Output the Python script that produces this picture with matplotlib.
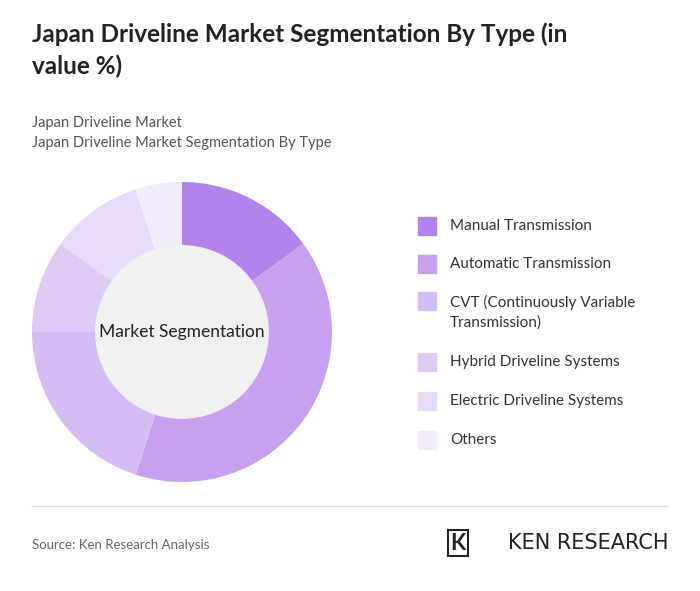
import matplotlib.pyplot as plt
from matplotlib.patches import Circle, Rectangle

plt.rcParams['font.family'] = ['Lato', 'DejaVu Sans']

categories = ['Manual Transmission', 'Automatic Transmission',
              'CVT (Continuously Variable\nTransmission)', 'Hybrid Driveline Systems',
              'Electric Driveline Systems', 'Others']
values = [15, 40, 20, 10, 10, 5]
colors = ['#b283ec', '#c7a0f0', '#d6bcf4', '#dfcaf6', '#e8dbf9', '#f1eafb']

W, H = 700, 591
fig = plt.figure(figsize=(7, 5.91), dpi=100)
fig.patch.set_facecolor('white')

fig.text(32/W, 1-50/H, 'Japan Driveline Market Segmentation By Type (in\nvalue %)',
         fontsize=17.5, fontweight='bold', color='#222222', va='center', linespacing=1.45)
fig.text(32/W, 1-133/H, 'Japan Driveline Market\nJapan Driveline Market Segmentation By Type',
         fontsize=10.5, color='#555555', va='center', linespacing=1.5)

# donut
cx, cy, r = 182, 332, 150
ax = fig.add_axes([(cx-r)/W, (H-cy-r)/H, 2*r/W, 2*r/H])
ax.pie(values, colors=colors, startangle=90, counterclock=False,
       wedgeprops=dict(width=0.43, edgecolor='none'))
ax.add_patch(Circle((0, 0), 0.575, color='#f0f0f0', zorder=5))
ax.text(0, 0, 'Market Segmentation', ha='center', va='center', fontsize=12.5,
        color='#222222', zorder=6)
ax.set_xlim(-1, 1)
ax.set_ylim(-1, 1)
ax.set_aspect('equal')
ax.axis('off')

# legend
ys = [226, 264, 301, 362, 401, 440]
for cat, col, y in zip(categories, colors, ys):
    fig.patches.append(Rectangle((418/W, 1-(y+9)/H), 18/W, 18/H, color=col,
                                 transform=fig.transFigure))
    nl = cat.count('\n')
    fig.text(450/W, 1-(y + nl*11.5)/H, cat, fontsize=11, color='#333333',
             va='center', linespacing=1.5)

# bottom rule and footer
fig.add_artist(plt.Line2D([32/W, 668/W], [1-506/H, 1-506/H], color='#dddddd', lw=1))
fig.text(32/W, 1-545/H, 'Source: Ken Research Analysis', fontsize=9.5,
         color='#666666', va='center')
fig.text(668/W, 1-543/H, 'KEN RESEARCH', fontsize=15, color='#222222',
         va='center', ha='right', family=['DejaVu Sans'])
fig.text(458/W, 1-543/H, 'K', fontsize=16, fontweight='bold', color='#222222',
         va='center', ha='center',
         bbox=dict(boxstyle='square,pad=0.1', fc='white', ec='#222222', lw=1.5))

fig.savefig('out.png', dpi=100)
